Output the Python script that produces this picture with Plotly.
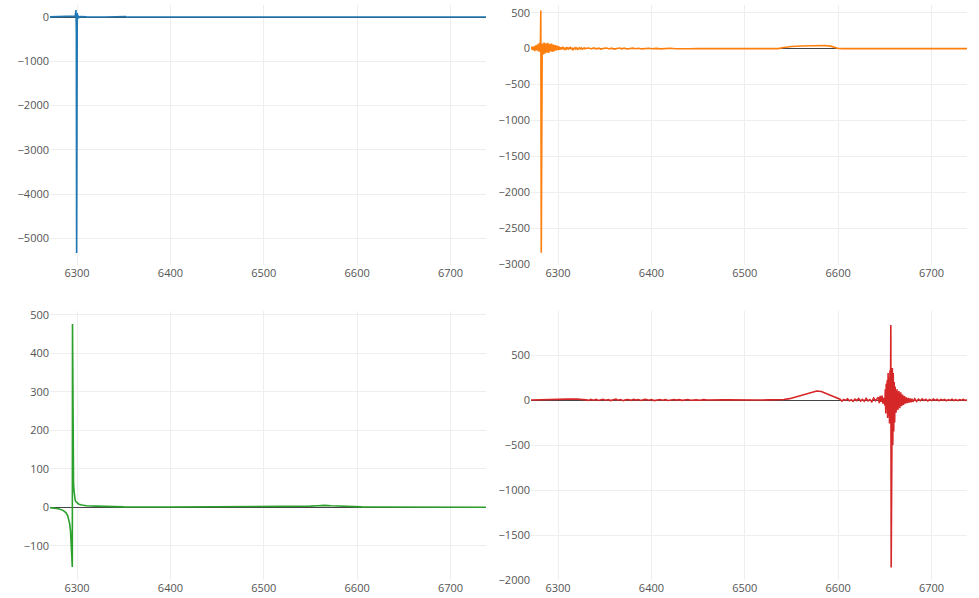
import plotly.graph_objects as go
from plotly.subplots import make_subplots

# ---------------- data ----------------
blue_x = [6271, 6280, 6290, 6296, 6298, 6298.8, 6299.2, 6299.5, 6299.8, 6300.2, 6300.6,
          6301, 6302, 6303, 6305, 6310, 6330, 6350, 6352, 6353, 6355, 6400, 6500, 6600,
          6700, 6738]
blue_y = [2, 3, 5, 8, 20, 158, -300, -5330, -1500, 90, -40,
          30, -10, 8, 3, 2, 1, 1, 12, -5, 1, 0, 0, 0,
          0, 0]

orange_x = [6271, 6272, 6273, 6274, 6275, 6276, 6277, 6278, 6279, 6280, 6281,
            6281.5, 6282, 6282.5, 6283,
            6284, 6285, 6286, 6287, 6288, 6289, 6290, 6291, 6292, 6293, 6294, 6295,
            6296, 6297, 6298, 6299, 6300,
            6301, 6302, 6303, 6304, 6305, 6306, 6307, 6308, 6309, 6310, 6311, 6312,
            6313, 6314, 6315, 6316, 6317, 6318, 6319, 6320, 6321, 6322, 6323, 6324,
            6325, 6326, 6327, 6328, 6329, 6330,
            6333, 6336, 6338, 6341, 6344, 6346, 6349, 6352, 6355, 6357, 6360, 6363,
            6366, 6368, 6371, 6374, 6377, 6380, 6383, 6386, 6390, 6393, 6397, 6401,
            6405, 6410, 6415, 6420, 6426, 6432, 6440, 6450,
            6470, 6500, 6520, 6532, 6536, 6540, 6545, 6550, 6560, 6570, 6578, 6585,
            6592, 6597, 6600, 6605, 6650, 6700, 6738]
orange_y = [-10, 25, -20, 30, -35, 45, -25, 60, -40, 80, -50,
            530, -2840, -300, 70,
            -80, 85, -70, 75, -55, 80, -60, 65, -40, 70, -45, 55,
            -35, 50, -25, 40, -20,
            30, -15, 20, -10, 25, 5, -20, 15, -5, 20, -12, 10,
            18, -8, 12, -15, 8, 14, -6, 10, -10, 6, 12, -5,
            8, -8, 5, 10, -4, 6,
            8, -5, 10, -3, 6, -8, 4, 9, -4, 7, -6, 5,
            8, -3, 6, -5, 3, 7, -2, 5, -4, 3, 6, -2,
            4, -3, 2, 5, -1, 3, -2, 2,
            1, 0, 1, -2, 0, 12, 22, 30, 36, 42, 45, 43,
            35, 15, 2, 0, 1, 0, 0]

green_x = [6271, 6275, 6280, 6285, 6288, 6290, 6291, 6292, 6293, 6293.8, 6294.5, 6294.9,
           6295.1, 6295.3, 6295.5, 6295.8, 6296.2, 6296.6, 6297, 6297.5, 6298, 6299,
           6300, 6302, 6305, 6310, 6320, 6330, 6350, 6400, 6440, 6460, 6480, 6500,
           6520, 6540, 6550, 6558, 6565, 6572, 6580, 6590, 6605, 6620, 6680, 6738]
green_y = [-1, -2, -4, -8, -14, -22, -30, -42, -62, -90, -125, -155,
           476, 300, 160, 100, 65, 45, 32, 24, 18, 14,
           11, 8, 6, 4, 3, 2, 1, 0.5, 1, 2, 1, 2,
           1.5, 2, 3, 4, 5, 4, 3, 2, 1, 0.5, 0.3, 0.2]

red_x = [6271, 6290, 6308, 6310, 6320, 6328, 6330,
         6333, 6335, 6338, 6341, 6343, 6346, 6348, 6351, 6354, 6356, 6359, 6362, 6364,
         6367, 6370, 6372, 6375, 6378, 6381, 6383, 6386, 6389, 6392, 6394, 6397, 6400,
         6403, 6406, 6409, 6412, 6415, 6418, 6421, 6424, 6427, 6430, 6433, 6436, 6439,
         6442, 6445, 6448, 6452, 6456, 6460, 6465, 6470, 6476, 6482, 6490, 6500, 6512,
         6525, 6538,
         6542, 6548, 6555, 6562, 6570, 6577, 6582, 6588, 6594, 6598, 6602,
         6604, 6606, 6608, 6610, 6612, 6614, 6616, 6618, 6620, 6622, 6624, 6626, 6628,
         6630, 6632, 6634, 6636, 6638, 6640, 6642,
         6643, 6644, 6645, 6646, 6647, 6648, 6649, 6650,
         6650.5, 6651, 6651.5, 6652, 6652.5, 6653, 6653.5, 6654, 6654.5, 6655, 6655.5,
         6656, 6656.4, 6656.8, 6657.2,
         6657.5, 6658, 6658.5, 6659, 6659.5, 6660, 6660.5, 6661,
         6662, 6663, 6664, 6665, 6666, 6667, 6668, 6669, 6670, 6671, 6672,
         6673, 6674, 6675, 6676, 6677, 6678, 6679, 6680, 6682, 6684, 6686,
         6688, 6690, 6692, 6694, 6696, 6698, 6700, 6702, 6704, 6706, 6708, 6710, 6712,
         6714, 6716, 6718, 6720, 6722, 6724, 6726, 6728, 6730, 6732, 6734, 6736, 6738]
red_y = [0, 1, 2, 10, 12, 9, 2,
         -4, 6, -2, 7, -5, 3, 8, -3, 5, -6, 4, 9, -2,
         6, -7, 3, 5, -4, 8, -1, 6, -5, 4, 7, -3, 5,
         -6, 2, 6, -2, 4, -5, 3, 6, -1, 4, -4, 2, 5,
         -2, 3, 1, -3, 4, 0, 3, -2, 2, 1, -1, 2, 0,
         1, 2,
         5, 15, 35, 60, 85, 100, 95, 70, 40, 20, 8,
         -12, 6, -4, 14, -9, 3, -15, 10, -6, 16, -11, 7, -14,
         18, -10, 5, -20, 22, -8, 12,
         30, -35, 45, -20, 50, -40, 25, -60,
         120, -150, 180, -100, 220, -200, 300, -180, 250, -260, 330,
         -220, 833, -1860, -200,
         -811, 355, -500, 300, -350, 200, -250, 150,
         -140, 120, -110, 100, -90, 85, -70, 60, -55, 45, -40,
         30, -35, 22, -28, 18, -25, 15, -20, 14, -16, 10,
         -8, 12, -6, 9, -11, 5, -7, 10, -4, 8, -9, 6, -3,
         7, -8, 4, -5, 9, -6, 3, -7, 5, -2, 6, -5, 2]

x_range = [6271, 6738]
y_ranges = [[-5603, 271], [-3010, 607], [-189, 510], [-2000, 989]]
y_dticks = [1000, 500, 100, 500]
colors = ["#1f77b4", "#ff7f0e", "#2ca02c", "#d62728"]

# ---------------- figure ----------------
W, H = 979, 598
fig = make_subplots(rows=2, cols=2)
series = [(blue_x, blue_y, 1, 1), (orange_x, orange_y, 1, 2),
          (green_x, green_y, 2, 1), (red_x, red_y, 2, 2)]
for i, (xs, ys, r, c) in enumerate(series):
    fig.add_trace(go.Scatter(x=xs, y=ys, mode="lines",
                             line=dict(color=colors[i], width=1.6),
                             showlegend=False), row=r, col=c)

xdom = {1: [50 / W, 486 / W], 2: [531 / W, 967 / W]}
ydom = {1: [1 - 265 / H, 1 - 5 / H], 2: [1 - 580 / H, 1 - 311 / H]}
axis_font = dict(family="Open Sans, Arial, sans-serif", size=11, color="#555")
k = 0
for r in (1, 2):
    for c in (1, 2):
        fig.update_xaxes(domain=xdom[c], range=x_range, dtick=100, tick0=6300,
                         showgrid=True, gridcolor="#eeeeee", zeroline=False,
                         showline=False, ticks="", tickfont=axis_font,
                         row=r, col=c)
        fig.update_yaxes(domain=ydom[r], range=y_ranges[k], dtick=y_dticks[k],
                         showgrid=True, gridcolor="#eeeeee", zeroline=True,
                         zerolinecolor="#444", zerolinewidth=1,
                         showline=False, ticks="", tickfont=axis_font,
                         row=r, col=c)
        k += 1

fig.update_layout(template="none", width=W, height=H,
                  margin=dict(l=0, r=0, t=0, b=0),
                  paper_bgcolor="white", plot_bgcolor="white",
                  font=dict(family="Open Sans, Arial, sans-serif", color="#555"))
fig.write_html("out.html", config={"displayModeBar": False},
               post_script="document.body.style.margin='0';"
                           "document.body.style.overflow='hidden';")
